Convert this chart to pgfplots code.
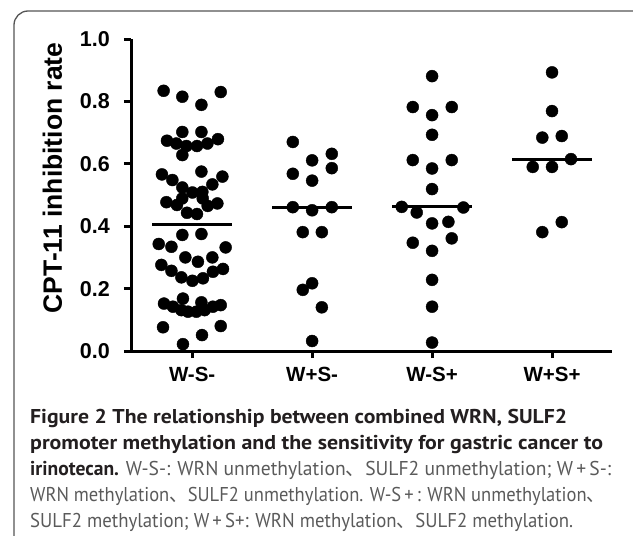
\documentclass[border=0pt]{standalone}
\usepackage{pgfplots}
\pgfplotsset{compat=1.18}
\usepackage{graphicx}
\usepackage{fontspec}
\setmainfont{Liberation Sans}
\newfontfamily\capfont{PT Sans}
\newfontfamily\cjk{Noto Sans CJK SC}
\definecolor{capbold}{HTML}{231F20}
\definecolor{capreg}{HTML}{5A5A5A}
\definecolor{framec}{HTML}{555555}
\begin{document}
\begin{tikzpicture}
\useasboundingbox (0,0) rectangle (633bp,-536bp);
\draw[framec, line width=1.3bp, rounded corners=14bp] (14bp,-600bp) -- (14bp,-11bp) -- (700bp,-11bp);
\begin{axis}[
  scale only axis, width=481bp, height=312bp,
  at={(131bp,-351bp)}, anchor=south west,
  xmin=-0.51, xmax=3.5, ymin=0, ymax=1,
  axis x line*=bottom, axis y line*=left,
  axis line style={line width=3bp, black, -},
  xtick={0,1,2,3}, xticklabels={W-S-,W+S-,W-S+,W+S+},
  ytick={0,0.2,0.4,0.6,0.8,1}, yticklabels={0.0,0.2,0.4,0.6,0.8,1.0},
  tick align=outside, major tick length=7bp,
  tick style={line width=3bp, black},
  ticklabel style={font=\fontsize{21.5bp}{21.5bp}\selectfont\bfseries, inner sep=0pt},
  xticklabel style={font=\fontsize{20.5bp}{20.5bp}\selectfont\bfseries, yshift=-9bp},
  yticklabel style={xshift=-14bp},
  clip=false,
]
\addplot[only marks, mark=*, mark size=6bp, black] table {
x y
-0.238 0.834
-0.082 0.815
0.077 0.789
0.238 0.830
-0.082 0.702
0.077 0.702
-0.210 0.674
-0.132 0.665
-0.048 0.657
0.040 0.657
0.127 0.665
0.215 0.679
-0.082 0.628
-0.252 0.566
-0.165 0.548
0.077 0.575
0.252 0.559
0.168 0.534
-0.082 0.524
0.002 0.508
0.085 0.510
-0.083 0.489
0.088 0.489
-0.215 0.477
-0.127 0.468
0.129 0.465
0.210 0.473
-0.043 0.443
0.040 0.439
-0.082 0.372
0.077 0.375
-0.279 0.343
-0.173 0.334
0.279 0.332
-0.057 0.300
0.048 0.286
0.168 0.300
-0.257 0.276
-0.173 0.257
-0.090 0.236
0.002 0.225
0.090 0.233
0.173 0.254
0.257 0.263
-0.077 0.168
-0.235 0.152
-0.160 0.142
-0.090 0.131
-0.035 0.126
0.035 0.126
0.077 0.156
0.104 0.131
0.173 0.142
0.238 0.147
-0.243 0.076
0.238 0.080
0.082 0.051
-0.077 0.022
};
\addplot[only marks, mark=*, mark size=6bp, black] table {
x y
0.839 0.670
1.000 0.611
1.164 0.632
0.839 0.568
1.000 0.546
1.164 0.586
0.839 0.461
1.000 0.451
1.164 0.461
0.922 0.381
1.081 0.381
1.000 0.217
0.922 0.196
1.081 0.140
1.000 0.032
};
\addplot[only marks, mark=*, mark size=6bp, black] table {
x y
2.000 0.881
1.839 0.782
2.164 0.782
2.000 0.756
2.000 0.693
1.839 0.612
2.164 0.612
2.000 0.585
2.000 0.519
1.747 0.462
1.872 0.444
2.261 0.460
2.000 0.409
2.136 0.414
1.839 0.347
2.164 0.361
2.000 0.321
2.000 0.228
2.000 0.142
2.000 0.027
};
\addplot[only marks, mark=*, mark size=6bp, black] table {
x y
3.000 0.893
3.000 0.769
2.919 0.684
3.081 0.689
3.158 0.615
2.839 0.590
3.000 0.590
3.081 0.413
2.919 0.381
};
\addplot[black, line width=3bp] coordinates {(-0.333,0.407) (0.333,0.407)};
\addplot[black, line width=3bp] coordinates {(0.667,0.461) (1.333,0.461)};
\addplot[black, line width=3bp] coordinates {(1.667,0.462) (2.333,0.462)};
\addplot[black, line width=3bp] coordinates {(2.667,0.614) (3.333,0.614)};
\end{axis}
\node[rotate=90, font=\fontsize{26.5bp}{26.5bp}\selectfont\bfseries, inner sep=0pt] at (52.5bp,-178bp) {CPT-11 inhibition rate};
\begin{scope}[every node/.style={anchor=base west, inner sep=0pt, font=\capfont\fontsize{20bp}{20bp}\selectfont}]
\node[capbold] at (30bp,-423bp) {\resizebox{537bp}{\height}{\bfseries Figure 2 The relationship between combined WRN, SULF2}};
\node[capbold] at (30bp,-449bp) {\resizebox{573bp}{\height}{\bfseries promoter methylation and the sensitivity for gastric cancer to}};
\node[capreg] at (30bp,-475bp) {\resizebox{581bp}{\height}{\textcolor{capbold}{\bfseries irinotecan.} W-S-: WRN unmethylation{\cjk 、}SULF2 unmethylation; W\,+\,S-:}};
\node[capreg] at (30bp,-501bp) {\resizebox{575bp}{\height}{WRN methylation{\cjk 、}SULF2 unmethylation. W-S\,+\,: WRN unmethylation{\cjk 、}}};
\node[capreg] at (30bp,-527bp) {\resizebox{543bp}{\height}{SULF2 methylation; W\,+\,S+: WRN methylation{\cjk 、}SULF2 methylation.}};
\end{scope}
\end{tikzpicture}
\end{document}
